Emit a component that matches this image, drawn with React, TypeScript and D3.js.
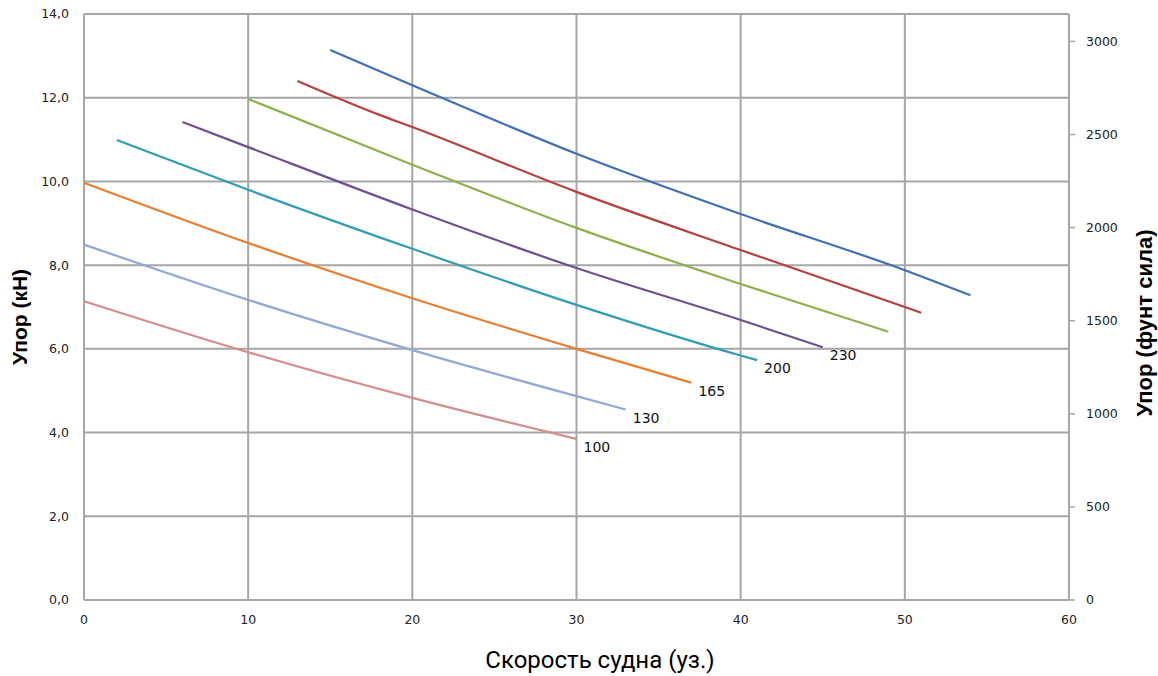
import React from "react";
import * as d3 from "d3";

// ---- data (speed in knots, thrust in kN) ----
const seriesLabels = ["100", "130", "165", "200", "230", "", "", ""];
const seriesColors = ["#D68C8C", "#92A9D6", "#E97E2E", "#2F9DB5", "#6E4F94", "#8DB04A", "#B8403C", "#3F6FB5"];

const speeds100 = [0, 10, 20, 30];
const thrust100 = [7.14, 5.92, 4.83, 3.85];

const speeds130 = [0, 10, 20, 30, 33];
const thrust130 = [8.49, 7.17, 5.97, 4.87, 4.55];

const speeds165 = [0, 10, 20, 30, 37];
const thrust165 = [9.97, 8.53, 7.21, 6.0, 5.19];

const speeds200 = [2, 10, 20, 30, 40, 41];
const thrust200 = [10.99, 9.8, 8.39, 7.05, 5.84, 5.73];

const speeds230 = [6, 10, 20, 30, 40, 45];
const thrust230 = [11.42, 10.82, 9.33, 7.93, 6.69, 6.04];

const speedsG = [10, 20, 30, 40, 49];
const thrustG = [11.97, 10.4, 8.89, 7.55, 6.41];

const speedsR = [13, 18, 20, 30, 40, 50, 51];
const thrustR = [12.4, 11.59, 11.3, 9.75, 8.36, 7.0, 6.86];

const speedsB = [15, 20, 30, 40, 50, 54];
const thrustB = [13.14, 12.3, 10.66, 9.22, 7.88, 7.28];

const allSpeeds = [speeds100, speeds130, speeds165, speeds200, speeds230, speedsG, speedsR, speedsB];
const allThrust = [thrust100, thrust130, thrust165, thrust200, thrust230, thrustG, thrustR, thrustB];

const xTicks = [0, 10, 20, 30, 40, 50, 60];
const yTicks = [0, 2, 4, 6, 8, 10, 12, 14];
const yRightTicks = [0, 500, 1000, 1500, 2000, 2500, 3000];
const KN_PER_LBF = 0.0044482216;

const W = 1158;
const H = 676;

export default function App() {
  const x = d3.scaleLinear().domain([0, 60]).range([84, 1069]);
  const y = d3.scaleLinear().domain([0, 14]).range([600, 14]);
  const yR = d3.scaleLinear().domain([0, 14 / KN_PER_LBF]).range([600, 14]);
  const fmt = (v: number) => d3.format(".1f")(v).replace(".", ",");
  const line = d3
    .line<[number, number]>()
    .x((d) => x(d[0]))
    .y((d) => y(d[1]))
    .curve(d3.curveMonotoneX);

  const grid = "#A6A6A6";
  const tickFont = "'DejaVu Sans', Verdana, sans-serif";

  return (
    <svg
      width={W}
      height={H}
      style={{ position: "absolute", left: 0, top: 0, background: "#fff" }}
    >
      <rect x={0} y={0} width={W} height={H} fill="#fff" />
      {/* grid */}
      {yTicks.map((t) => (
        <line key={"h" + t} x1={x(0)} x2={x(60)} y1={y(t)} y2={y(t)} stroke={grid} strokeWidth={2} />
      ))}
      {xTicks.map((t) => (
        <line key={"v" + t} x1={x(t)} x2={x(t)} y1={y(0)} y2={y(14)} stroke={grid} strokeWidth={2} />
      ))}
      {/* right axis ticks */}
      {yRightTicks.map((t) => (
        <g key={"r" + t}>
          <line x1={x(60)} x2={x(60) + 6} y1={yR(t)} y2={yR(t)} stroke={grid} strokeWidth={1.5} />
          <text x={1086} y={yR(t)} dy="0.35em" fontFamily={tickFont} fontSize={12.5} fill="#222">
            {t}
          </text>
        </g>
      ))}
      {/* left tick labels */}
      {yTicks.map((t) => (
        <text key={"l" + t} x={69} y={y(t)} dy="0.35em" textAnchor="end" fontFamily={tickFont} fontSize={12.5} fill="#222">
          {fmt(t)}
        </text>
      ))}
      {/* x tick labels */}
      {xTicks.map((t) => (
        <text key={"x" + t} x={x(t)} y={620} dy="0.35em" textAnchor="middle" fontFamily={tickFont} fontSize={12.5} fill="#222">
          {t}
        </text>
      ))}
      {/* series */}
      {allSpeeds.map((sp, i) => {
        const pts: [number, number][] = sp.map((s, j) => [s, allThrust[i][j]]);
        const last = pts[pts.length - 1];
        return (
          <g key={"s" + i}>
            <path d={line(pts) || ""} fill="none" stroke={seriesColors[i]} strokeWidth={2.2} strokeLinecap="butt" />
            {seriesLabels[i] && (
              <text
                x={x(last[0]) + 7}
                y={y(last[1]) + 13}
                fontFamily={tickFont}
                fontSize={14}
                fill="#111"
              >
                {seriesLabels[i]}
              </text>
            )}
          </g>
        );
      })}
      {/* axis titles */}
      <text
        transform={`translate(27, ${y(7) + 10}) rotate(-90)`}
        textAnchor="middle"
        fontFamily="'Liberation Sans', Arial, sans-serif"
        fontWeight="bold"
        fontSize={21}
        fill="#000"
      >
        Упор (кН)
      </text>
      <text
        transform={`translate(1152, 323) rotate(-90)`}
        textAnchor="middle"
        fontFamily="'Liberation Sans', Arial, sans-serif"
        fontWeight="bold"
        fontSize={22}
        fill="#000"
      >
        Упор (фунт сила)
      </text>
      <text
        x={600}
        y={668}
        textAnchor="middle"
        fontFamily="Roboto, sans-serif"
        fontSize={24}
        fill="#000"
      >
        Скорость судна (уз.)
      </text>
    </svg>
  );
}
